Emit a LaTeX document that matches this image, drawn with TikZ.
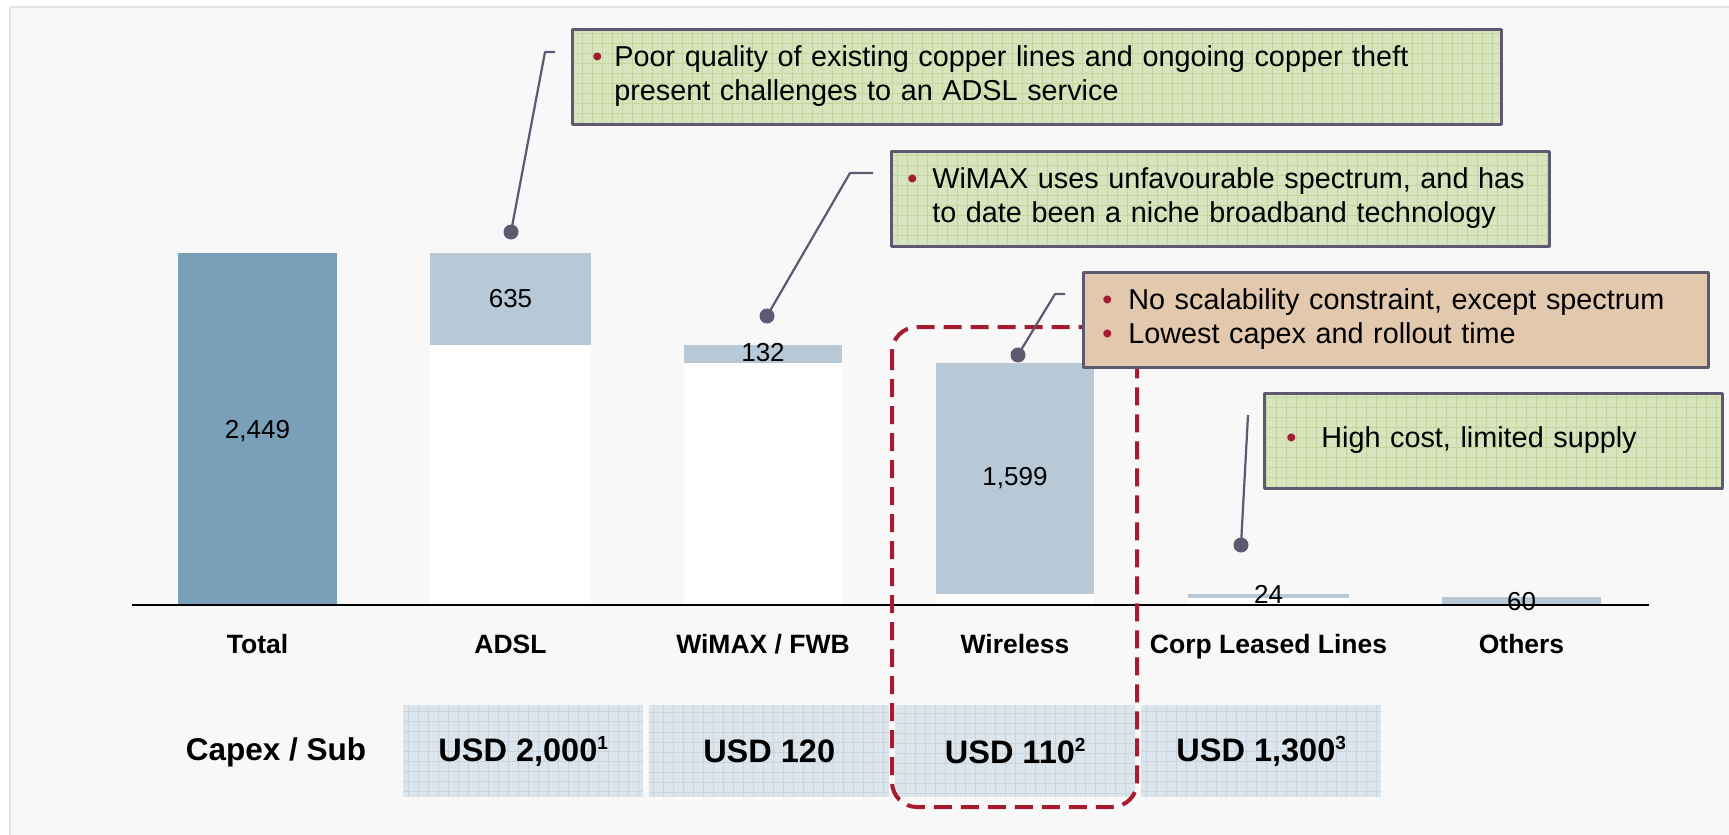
\documentclass[tikz,border=0pt]{standalone}
\usepackage{fontspec}
\setmainfont{Liberation Sans}

\definecolor{totalblue}{HTML}{7A9FB8}
\definecolor{barblue}{HTML}{B7C9D7}
\definecolor{leadgray}{HTML}{5E5870}
\definecolor{notegreen}{HTML}{D8E4BE}
\definecolor{gridgreen}{HTML}{C2D69E}
\definecolor{notetan}{HTML}{E2C8AD}
\definecolor{capexfill}{HTML}{DCE4EC}
\definecolor{capexgrid}{HTML}{C8D5E0}
\definecolor{markred}{HTML}{A51C30}
\definecolor{bgpage}{HTML}{F8F8F8}
\definecolor{bgframe}{HTML}{E4E4E4}

\newcommand{\notefont}{\fontsize{28.8}{34}\selectfont}
\newcommand{\valfont}{\fontsize{26}{30}\selectfont}
\newcommand{\catfont}{\fontsize{26.5}{30}\selectfont\bfseries}
\newcommand{\capfont}{\fontsize{32.5}{36}\selectfont\bfseries}
\newcommand{\bul}{\textcolor{markred}{\textbullet}}
\newcommand{\capsup}[1]{\raisebox{0.36em}{\fontsize{19}{19}\selectfont #1}}

\begin{document}
\begin{tikzpicture}[
    x=1pt, y=-1pt,
    line join=round,
    gridfill/.style={
        path picture={\draw[#1, line width=0.7pt]
            (path picture bounding box.south west) grid[step=10pt]
            (path picture bounding box.north east);}
    },
    note/.style={
        draw=leadgray,
        line width=2.5pt,
        fill=notegreen,
        gridfill=gridgreen,
        anchor=north west,
        minimum height=95pt,
        align=left,
        font=\notefont
    },
    capex/.style={
        fill=capexfill,
        gridfill=capexgrid,
        anchor=north west,
        minimum width=240pt,
        minimum height=92pt,
        font=\capfont
    },
    value/.style={anchor=base, font=\valfont},
    catlabel/.style={anchor=base, font=\catfont},
    leader/.style={draw=leadgray, line width=2.2pt},
    leaddot/.style={circle, fill=leadgray, inner sep=0pt, minimum size=15pt}
]
\useasboundingbox (0,0) rectangle (1729,835);
\fill[white] (0,0) rectangle (1729,835);
\draw[bgframe, fill=bgpage, line width=2pt] (10,7) rectangle (1745,850);

% =========================
% Bars
% =========================
\fill[totalblue] (178,253) rectangle (337,605);

\fill[white] (430,345) rectangle (591,605);
\fill[barblue] (430,253) rectangle (591,345);

\fill[white] (684,363) rectangle (842,605);
\fill[barblue] (684,345) rectangle (842,363);

\fill[white] (936,594) rectangle (1094,605);
\fill[barblue] (936,363) rectangle (1094,594);

\fill[white] (1188,598) rectangle (1349,605);
\fill[barblue] (1188,594) rectangle (1349,598);

\fill[barblue] (1442,597) rectangle (1601,605);

\draw[line width=2pt] (132,605) -- (1649,605);

% =========================
% Values and categories
% =========================
\node[value] (vTotal) at (257.5,438) {2,449};
\node[value] (vAdsl) at (510.5,307) {635};
\node[value] (vWimax) at (763,361) {132};
\node[value] (vWireless) at (1015,485) {1,599};
\node[value] (vLeased) at (1268.5,603) {24};
\node[value] (vOthers) at (1521.5,610) {60};

\node[catlabel] (cTotal) at (257.5,653) {Total};
\node[catlabel] (cAdsl) at (510.5,653) {ADSL};
\node[catlabel] (cWimax) at (763,653) {WiMAX / FWB};
\node[catlabel] (cWireless) at (1015,653) {Wireless};
\node[catlabel] (cLeased) at (1268.5,653) {Corp Leased Lines};
\node[catlabel] (cOthers) at (1521.5,653) {Others};

% =========================
% Capex per subscriber
% =========================
\node[font=\fontsize{31.5}{36}\selectfont\bfseries] (capexLabel) at (276,752) {Capex / Sub};
\node[capex] (capAdsl) at (403,705) {USD 2,000\capsup{1}};
\node[capex] (capWimax) at (649,705) {USD 120};
\node[capex] (capWireless) at (895,705) {USD 110\capsup{2}};
\node[capex] (capLeased) at (1141,705) {USD 1,300\capsup{3}};

% highlight of the wireless column
\draw[markred, line width=4pt, dash pattern=on 18pt off 9pt, rounded corners=25pt]
    (892,327) rectangle (1137,807);

% =========================
% Call-outs
% =========================
\node[leaddot] (dAdsl) at (511,232) {};
\node[leaddot] (dWimax) at (767,316) {};
\node[leaddot] (dWireless) at (1018,355) {};
\node[leaddot] (dLeased) at (1241,545) {};

\coordinate (kAdsl) at (555,52);
\coordinate (kWimax) at (873,173);
\coordinate (kWireless) at (1065,294);
\coordinate (kLeased) at (1248,415);

\draw[leader] (kAdsl) -- ++(-10,0) -- (dAdsl.center);
\draw[leader] (kWimax) -- ++(-23,0) -- (dWimax.center);
\draw[leader] (kWireless) -- ++(-10,0) -- (dWireless.center);
\draw[leader] (kLeased) -- (dLeased.center);

\node[note, inner xsep=20pt, text width=889pt] (nAdsl) at (571,28)
    {\begin{tabular}{@{}l@{\hspace{12pt}}l@{}}
     \bul & Poor quality of existing copper lines and ongoing copper theft\\
          & present challenges to an ADSL service
     \end{tabular}};
\node[note, inner xsep=16pt, text width=626pt] (nWimax) at (890,150)
    {\begin{tabular}{@{}l@{\hspace{15pt}}l@{}}
     \bul & WiMAX uses unfavourable spectrum, and has\\
          & to date been a niche broadband technology
     \end{tabular}};
\node[note, fill=notetan, path picture={}, inner xsep=19pt, text width=587pt] (nWireless) at (1082,271)
    {\begin{tabular}{@{}l@{\hspace{16pt}}l@{}}
     \bul & No scalability constraint, except spectrum\\
     \bul & Lowest capex and rollout time
     \end{tabular}};
\node[note, inner xsep=22pt, text width=414pt] (nLeased) at (1263,392)
    {\begin{tabular}{@{}l@{\hspace{25pt}}l@{}}
     \bul & High cost, limited supply
     \end{tabular}};

\end{tikzpicture}
\end{document}
